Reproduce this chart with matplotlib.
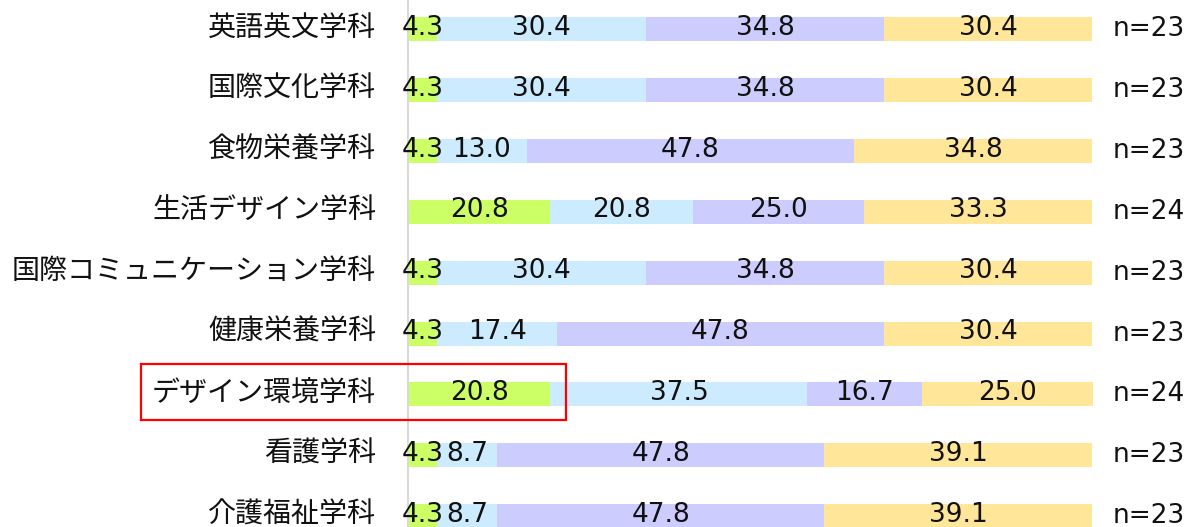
import matplotlib.pyplot as plt
from matplotlib.patches import Rectangle

plt.rcParams['font.family'] = ['DejaVu Sans', 'Noto Sans CJK JP']

# data
depts = ['英語英文学科', '国際文化学科', '食物栄養学科', '生活デザイン学科',
         '国際コミュニケーション学科', '健康栄養学科', 'デザイン環境学科',
         '看護学科', '介護福祉学科']
seg1 = [4.3, 4.3, 4.3, 20.8, 4.3, 4.3, 20.8, 4.3, 4.3]
seg2 = [30.4, 30.4, 13.0, 20.8, 30.4, 17.4, 37.5, 8.7, 8.7]
seg3 = [34.8, 34.8, 47.8, 25.0, 34.8, 47.8, 16.7, 47.8, 47.8]
seg4 = [30.4, 30.4, 34.8, 33.3, 30.4, 30.4, 25.0, 39.1, 39.1]
counts = [23, 23, 23, 24, 23, 23, 24, 23, 23]

colors = ['#ccff66', '#cdebff', '#ccccff', '#ffe699']

W, H = 1193, 527
fig = plt.figure(figsize=(W/100, H/100), dpi=100)
ax = fig.add_axes([408/W, 0, (1093-408)/W, 1])

rows = list(range(len(depts)))
left = [0]*len(depts)
for vals, c in zip([seg1, seg2, seg3, seg4], colors):
    ax.barh(rows, vals, left=left, height=0.394, color=c, edgecolor='none')
    for i, v in enumerate(vals):
        ax.text(left[i] + v/2, i - 0.02, '%.1f' % v, ha='center', va='center',
                fontsize=19, color='#111111')
    left = [l + v for l, v in zip(left, vals)]

for i, n in enumerate(counts):
    ax.text(102.9, i, 'n=%d' % n, ha='left', va='center', fontsize=19, color='#111111')

# category labels, sitting slightly above the bar centre
for i, d in enumerate(depts):
    ax.text(-32/685, i - 0.025, d, transform=ax.get_yaxis_transform(),
            ha='right', va='center', fontsize=20.2,
            family=['Noto Sans CJK JP', 'DejaVu Sans'], color='#111111')

ax.set_xlim(0, 100)
ax.set_ylim(8.177, -0.476)
ax.set_yticks([])
ax.set_xticks([])
for s in ['top', 'right', 'bottom']:
    ax.spines[s].set_visible(False)
ax.spines['left'].set_color('#d9d9d9')
ax.spines['left'].set_linewidth(1.5)

# red highlight box
fig.patches.append(Rectangle((141/W, 1 - 420/H), (566-141)/W, (420-364)/H,
                             transform=fig.transFigure, fill=False,
                             edgecolor='#ff0000', linewidth=1.6, zorder=10))

fig.savefig('out.png', dpi=100)
